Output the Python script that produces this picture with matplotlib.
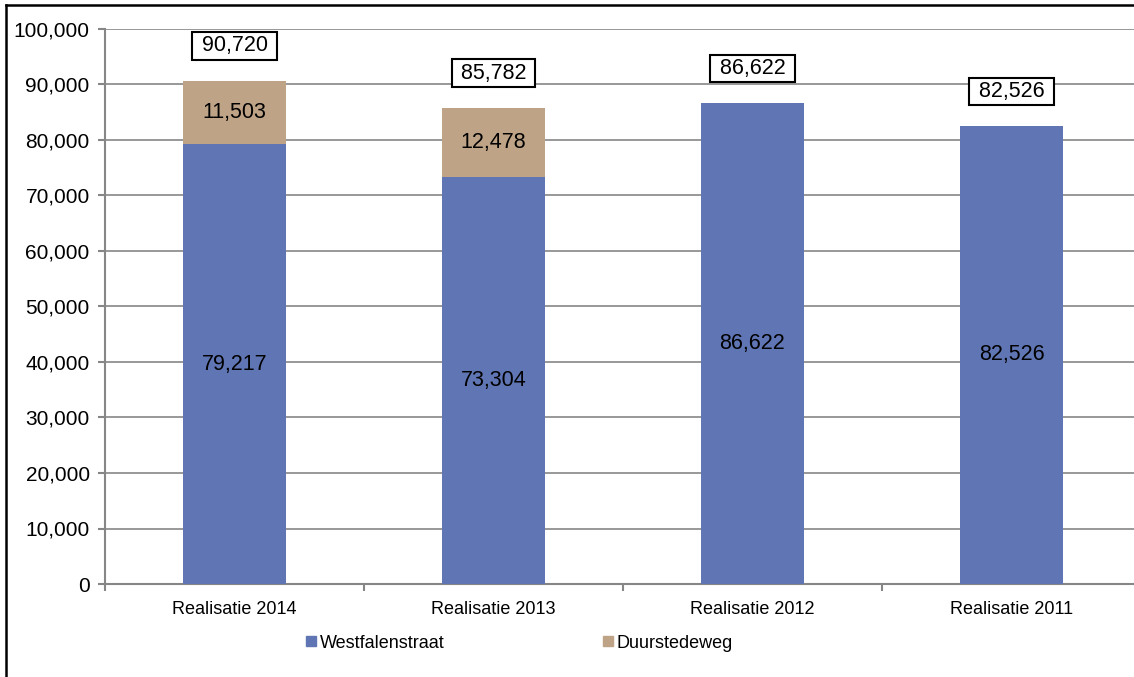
import matplotlib.pyplot as plt
from matplotlib.lines import Line2D
import numpy as np

plt.rcParams['font.family'] = ['Liberation Sans', 'DejaVu Sans']

categories = ["Realisatie 2014", "Realisatie 2013", "Realisatie 2012", "Realisatie 2011"]
westfalenstraat = [79217, 73304, 86622, 82526]
duurstedeweg = [11503, 12478, 0, 0]
totals = [90720, 85782, 86622, 82526]

blue = '#6076B4'
tan = '#BFA386'
grid = '#868686'

fig = plt.figure(figsize=(11.34, 6.77), dpi=100)
ax = fig.add_axes([105 / 1134, 93 / 677, 1036 / 1134, 555 / 677])

x = np.arange(len(categories))
ax.bar(x, westfalenstraat, width=0.4, color=blue, zorder=3)
ax.bar(x, duurstedeweg, width=0.4, bottom=westfalenstraat, color=tan, zorder=3)

# values inside the segments
for i in range(len(categories)):
    ax.text(x[i], westfalenstraat[i] / 2, "{:,}".format(westfalenstraat[i]),
            ha='center', va='center', fontsize=15.5, zorder=4)
    if duurstedeweg[i] > 0:
        ax.text(x[i], westfalenstraat[i] + duurstedeweg[i] / 2, "{:,}".format(duurstedeweg[i]),
                ha='center', va='center', fontsize=15.5, zorder=4)
    # boxed totals
    ax.annotate(" {:,} ".format(totals[i]), (x[i], totals[i]), xytext=(0, 25),
                textcoords='offset points', ha='center', va='center', fontsize=15.5,
                bbox=dict(boxstyle='square,pad=0.15', fc='white', ec='black', lw=1.5), zorder=5)

ax.set_xlim(-0.5, 3.5)
ax.set_ylim(0, 100000)
ax.set_yticks(np.arange(0, 100001, 10000))
ax.set_yticklabels(["{:,}".format(v) for v in range(0, 100001, 10000)], fontsize=15)
ax.set_xticks(x)
ax.set_xticklabels(categories, fontsize=13)
ax.set_xticks(np.arange(-0.5, 4, 1), minor=True)
ax.tick_params(axis='x', which='major', length=0, pad=12)
ax.tick_params(axis='x', which='minor', length=5, width=1.5, color=grid, direction='out')
ax.tick_params(axis='y', length=5, width=1.5, color=grid, pad=6)

ax.yaxis.grid(True, color=grid, lw=1.2, zorder=0)
ax.set_axisbelow(True)
for s in ['top', 'right']:
    ax.spines[s].set_visible(False)
for s in ['left', 'bottom']:
    ax.spines[s].set_color(grid)
    ax.spines[s].set_linewidth(1.5)

handles = [Line2D([], [], ls='', marker='s', markersize=7.5, color=blue, label='Westfalenstraat'),
           Line2D([], [], ls='', marker='s', markersize=7.5, color=tan, label='Duurstedeweg')]
fig.legend(handles=handles, loc='center', bbox_to_anchor=(0.458, 0.05), ncol=2, frameon=False,
           fontsize=13, handlelength=0.6, handletextpad=0.2, columnspacing=8.7)

# outer chart border (left and top)
fig.add_artist(Line2D([6 / 1134, 6 / 1134], [0, 1 - 5 / 677], color='black', lw=1.8))
fig.add_artist(Line2D([6 / 1134, 1], [1 - 5 / 677, 1 - 5 / 677], color='black', lw=1.8))

fig.savefig('out.png', dpi=100)
